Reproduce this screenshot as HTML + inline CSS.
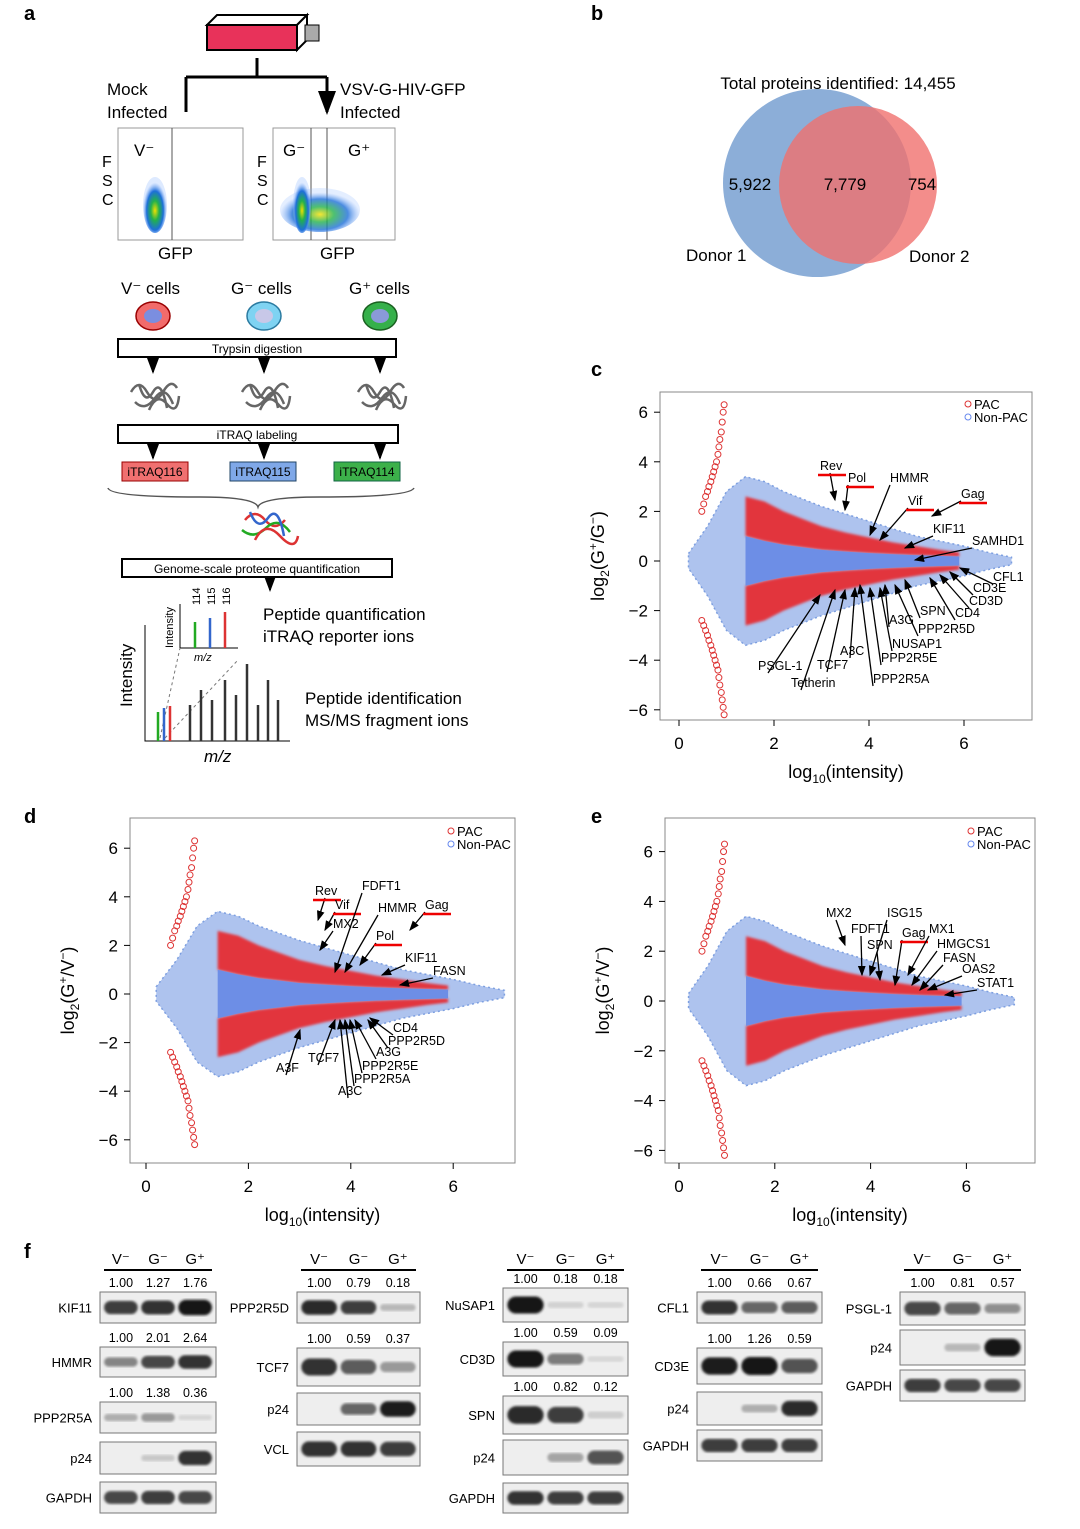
<!DOCTYPE html>
<html><head><meta charset="utf-8">
<style>
html,body{margin:0;padding:0;background:#fff;}
svg{display:block;font-family:"Liberation Sans",sans-serif;}
</style></head>
<body>
<svg id="fig" width="1080" height="1529" viewBox="0 0 1080 1529" xmlns="http://www.w3.org/2000/svg">
<defs>
<radialGradient id="flowg" cx="50%" cy="60%" r="50%">
<stop offset="0" stop-color="#f2e000"/><stop offset="0.35" stop-color="#22b14c"/><stop offset="0.7" stop-color="#1e6fd9"/><stop offset="1" stop-color="#8fb8ff" stop-opacity="0.3"/>
</radialGradient>
<marker id="arr" markerWidth="8" markerHeight="8" refX="7" refY="4" orient="auto"><path d="M0,1 L8,4 L0,7 z" fill="#000"/></marker>
<filter id="blur1"><feGaussianBlur stdDeviation="1.3"/></filter>
</defs>
<g font-weight="bold" font-size="20">
<text x="24" y="20">a</text>
<text x="591" y="20">b</text>
<text x="591" y="376">c</text>
<text x="24" y="823">d</text>
<text x="591" y="823">e</text>
<text x="24" y="1258">f</text>
</g>

<g id="panelA" font-size="17">
<g>
<polygon points="207,25 297,25 297,50 207,50" fill="#e8325a" stroke="#000" stroke-width="2"/>
<polygon points="207,25 217,15 307,15 297,25" fill="#fff" stroke="#000" stroke-width="2"/>
<polygon points="297,25 307,15 307,40 297,50" fill="#fff" stroke="#000" stroke-width="2"/>
<rect x="305" y="25" width="14" height="16" fill="#aaa" stroke="#000"/>
</g>
<path d="M257,58 V77 M186,77 H327 M186,77 V112 M327,77 V112" stroke="#000" stroke-width="3" fill="none" marker-end="url(#arr)"/>
<text x="107" y="95">Mock</text>
<text x="107" y="118">Infected</text>
<text x="340" y="95">VSV-G-HIV-GFP</text>
<text x="340" y="118">Infected</text>
<g>
<rect x="118" y="128" width="125" height="112" fill="#fff" stroke="#999"/>
<line x1="172" y1="128" x2="172" y2="240" stroke="#555"/>
<ellipse cx="155" cy="205" rx="12" ry="28" fill="url(#flowg)"/>
<text x="134" y="156">V⁻</text>
</g>
<g>
<rect x="273" y="128" width="122" height="112" fill="#fff" stroke="#999"/>
<line x1="311" y1="128" x2="311" y2="240" stroke="#555"/>
<line x1="327" y1="128" x2="327" y2="240" stroke="#555"/>
<ellipse cx="320" cy="210" rx="40" ry="22" fill="url(#flowg)" opacity="0.8"/>
<ellipse cx="302" cy="205" rx="9" ry="28" fill="url(#flowg)"/>
<text x="283" y="156">G⁻</text>
<text x="348" y="156">G⁺</text>
</g>
<g font-size="16">
<text x="102" y="167">F</text><text x="102" y="186">S</text><text x="102" y="205">C</text>
<text x="257" y="167">F</text><text x="257" y="186">S</text><text x="257" y="205">C</text>
</g>
<text x="158" y="259">GFP</text>
<text x="320" y="259">GFP</text>
<text x="121" y="294">V⁻ cells</text>
<text x="231" y="294">G⁻ cells</text>
<text x="349" y="294">G⁺ cells</text>
<g>
<ellipse cx="153" cy="316" rx="17" ry="14" fill="#f26b6b" stroke="#900" stroke-width="1.5"/><ellipse cx="153" cy="316" rx="9" ry="7" fill="#7b8ee0"/>
<ellipse cx="264" cy="316" rx="17" ry="14" fill="#7fd3f2" stroke="#2a7aa0" stroke-width="1.5"/><ellipse cx="264" cy="316" rx="9" ry="7" fill="#c8c8e8"/>
<ellipse cx="380" cy="316" rx="17" ry="14" fill="#35b04a" stroke="#1a6020" stroke-width="1.5"/><ellipse cx="380" cy="316" rx="9" ry="7" fill="#8a9ad8"/>
</g>
<rect x="118" y="339" width="278" height="18" fill="#fff" stroke="#000" stroke-width="2"/>
<text x="257" y="353" font-size="12" text-anchor="middle">Trypsin digestion</text>
<rect x="118" y="425" width="280" height="18" fill="#fff" stroke="#000" stroke-width="2"/>
<text x="257" y="439" font-size="12" text-anchor="middle">iTRAQ labeling</text>
<g id="peps"></g>
<rect x="122" y="462" width="66" height="19" fill="#f07070" stroke="#900"/>
<text x="155" y="476" font-size="12" text-anchor="middle">iTRAQ116</text>
<rect x="230" y="462" width="66" height="19" fill="#7fa8e8" stroke="#246"/>
<text x="263" y="476" font-size="12" text-anchor="middle">iTRAQ115</text>
<rect x="334" y="462" width="66" height="19" fill="#3cb04a" stroke="#164"/>
<text x="367" y="476" font-size="12" text-anchor="middle">iTRAQ114</text>
<path d="M108,488 Q110,497 200,497 Q255,497 258,507 Q261,497 320,497 Q410,497 414,488" stroke="#555" fill="none" stroke-width="1.5"/>
<g stroke-width="2.5" fill="none">
<path d="M245,520 q10,-12 20,0 t20,0" stroke="#d33"/><path d="M242,530 q12,10 24,-2 t24,4" stroke="#2a2"/><path d="M250,512 q8,20 18,6 t16,18" stroke="#36c"/><path d="M255,540 q10,-20 25,-4 t18,0" stroke="#d33"/>
</g>
<rect x="122" y="559" width="270" height="18" fill="#fff" stroke="#000" stroke-width="2"/>
<text x="257" y="573" font-size="12" text-anchor="middle">Genome-scale proteome quantification</text>
<g>
<path d="M180,604 V648 H238" stroke="#000" fill="none"/>
<line x1="195" y1="648" x2="195" y2="622" stroke="#2a2" stroke-width="2.5"/>
<line x1="210" y1="648" x2="210" y2="618" stroke="#36c" stroke-width="2.5"/>
<line x1="225" y1="648" x2="225" y2="612" stroke="#d33" stroke-width="2.5"/>
<g font-size="11"><text transform="translate(200,605) rotate(-90)">114</text><text transform="translate(215,605) rotate(-90)">115</text><text transform="translate(230,605) rotate(-90)">116</text>
<text transform="translate(173,648) rotate(-90)">Intensity</text><text x="194" y="661" font-style="italic">m/z</text></g>
<path d="M145,625 V741 H290" stroke="#000" fill="none"/>
<path d="M160,738 L180,648 M165,738 L238,660" stroke="#777" stroke-dasharray="3,3"/>
<line x1="158" y1="741" x2="158" y2="712" stroke="#2a2" stroke-width="2.5"/>
<line x1="164" y1="741" x2="164" y2="708" stroke="#36c" stroke-width="2.5"/>
<line x1="170" y1="741" x2="170" y2="706" stroke="#d33" stroke-width="2.5"/>
<g stroke="#333" stroke-width="2.5">
<line x1="190" y1="741" x2="190" y2="705"/><line x1="201" y1="741" x2="201" y2="690"/><line x1="212" y1="741" x2="212" y2="700"/><line x1="225" y1="741" x2="225" y2="680"/><line x1="236" y1="741" x2="236" y2="695"/><line x1="247" y1="741" x2="247" y2="664"/><line x1="258" y1="741" x2="258" y2="705"/><line x1="268" y1="741" x2="268" y2="680"/><line x1="278" y1="741" x2="278" y2="700"/>
</g>
<text transform="translate(132,707) rotate(-90)" font-size="17">Intensity</text>
<text x="204" y="762" font-size="17" font-style="italic">m/z</text>
</g>
<text x="263" y="620">Peptide quantification</text>
<text x="263" y="642">iTRAQ reporter ions</text>
<text x="305" y="704">Peptide identification</text>
<text x="305" y="726">MS/MS fragment ions</text>
</g>

<g font-size="17">
<circle cx="817" cy="183" r="94" fill="#8caed8"/>
<circle cx="858" cy="185" r="79" fill="#f0706e" opacity="0.8"/>
<text x="838" y="89" text-anchor="middle">Total proteins identified: 14,455</text>
<text x="750" y="190" text-anchor="middle">5,922</text>
<text x="845" y="190" text-anchor="middle">7,779</text>
<text x="922" y="190" text-anchor="middle">754</text>
<text x="686" y="261">Donor 1</text>
<text x="909" y="262">Donor 2</text>
</g>

<g id="plotC"></g>
<g id="plotD"></g>
<g id="plotE"></g>
<g id="blots"></g>
</svg>
<script>
const envX = [0.2,0.6,1.0,1.4,1.8,2.2,2.6,3.0,3.5,4.0,4.5,5.0,5.5,6.0,6.5,7.0];
const blueUpper = [0.3,1.4,2.8,3.4,3.2,2.8,2.5,2.2,1.9,1.6,1.3,1.0,0.8,0.6,0.35,0.15];
const blueLower = [-0.3,-1.4,-2.8,-3.4,-3.2,-2.8,-2.5,-2.2,-1.9,-1.6,-1.3,-1.0,-0.8,-0.6,-0.35,-0.15];
const redX = [1.4,1.8,2.2,2.6,3.0,3.5,4.0,4.5,5.0,5.5,5.9];
const redOuter = [2.6,2.4,2.0,1.7,1.4,1.15,0.95,0.75,0.6,0.45,0.35];
const redInner = [1.0,0.8,0.65,0.55,0.45,0.38,0.32,0.27,0.23,0.2,0.18];
const diagX = [0.95,0.93,0.91,0.89,0.86,0.84,0.82,0.79,0.76,0.73,0.70,0.67,0.63,0.6,0.56,0.52,0.48];
const diagY = [6.3,6.0,5.6,5.2,4.9,4.6,4.3,4.0,3.8,3.6,3.4,3.2,3.0,2.8,2.6,2.3,2.0];
const diagYLow = [-6.2,-5.9,-5.6,-5.3,-5.0,-4.7,-4.4,-4.2,-4.0,-3.8,-3.6,-3.4,-3.2,-3.0,-2.8,-2.6,-2.4];
const xTicks = [0,2,4,6];
const yTicks = [-6,-4,-2,0,2,4,6];

const annC = [["Rev",820,470,835,500,1],["Pol",848,482,845,510,1],["HMMR",890,482,870,535,0],["Vif",908,505,880,540,1],["Gag",961,498,932,516,1],["KIF11",933,533,905,548,0],["SAMHD1",972,545,915,560,0],["CFL1",993,581,960,568,0],["CD3E",973,592,950,572,0],["CD3D",969,605,940,575,0],["CD4",955,617,930,578,0],["SPN",920,615,905,580,0],["A3G",889,624,885,585,0],["PPP2R5D",918,633,895,585,0],["NUSAP1",892,648,880,588,0],["PPP2R5E",881,662,870,588,0],["PPP2R5A",873,683,860,585,0],["A3C",840,655,855,588,0],["TCF7",817,669,845,590,0],["PSGL-1",758,670,820,595,0],["Tetherin",791,687,835,590,0]];
const annD = [["Rev",315,895,318,920,1],["Vif",335,909,325,930,1],["FDFT1",362,890,335,972,0],["MX2",333,928,320,950,0],["HMMR",378,912,345,972,0],["Gag",425,909,410,930,1],["Pol",376,940,360,965,1],["KIF11",405,962,382,975,0],["FASN",433,975,400,985,0],["CD4",393,1032,370,1018,0],["PPP2R5D",388,1045,368,1020,0],["A3G",376,1056,355,1020,0],["PPP2R5E",362,1070,350,1020,0],["PPP2R5A",354,1083,345,1020,0],["A3C",338,1095,340,1020,0],["TCF7",308,1062,335,1020,0],["A3F",276,1072,300,1030,0]];
const annE = [["MX2",826,917,845,945,0],["FDFT1",851,933,862,975,0],["ISG15",887,917,870,975,0],["SPN",867,949,880,980,0],["Gag",902,937,895,985,1],["MX1",929,933,908,975,0],["HMGCS1",937,948,912,985,0],["FASN",943,962,920,990,0],["OAS2",962,973,928,990,0],["STAT1",977,987,945,995,0]];

const blotG1 = [["KIF11",[0.8,0.85,1.0],"1.00 1.27 1.76"],["HMMR",[0.45,0.75,0.85],"1.00 2.01 2.64"],["PPP2R5A",[0.25,0.35,0.06],"1.00 1.38 0.36"],["p24",[0,0.12,0.85],""],["GAPDH",[0.75,0.8,0.75],""]];
const blotG2 = [["PPP2R5D",[0.9,0.8,0.2],"1.00 0.79 0.18"],["TCF7",[0.85,0.65,0.35],"1.00 0.59 0.37"],["p24",[0,0.6,0.95],""],["VCL",[0.85,0.85,0.8],""]];
const blotG3 = [["NuSAP1",[1.0,0.08,0.06],"1.00 0.18 0.18"],["CD3D",[1.0,0.5,0.05],"1.00 0.59 0.09"],["SPN",[0.9,0.8,0.1],"1.00 0.82 0.12"],["p24",[0,0.3,0.7],""],["GAPDH",[0.85,0.8,0.8],""]];
const blotG4 = [["CFL1",[0.85,0.6,0.65],"1.00 0.66 0.67"],["CD3E",[0.95,1.0,0.7],"1.00 1.26 0.59"],["p24",[0,0.25,0.9],""],["GAPDH",[0.8,0.8,0.8],""]];
const blotG5 = [["PSGL-1",[0.75,0.6,0.4],"1.00 0.81 0.57"],["p24",[0,0.2,1.0],""],["GAPDH",[0.8,0.75,0.75],""]];

const NS = "http://www.w3.org/2000/svg";
function mk(parent, tag, attrs, name){
  const el = document.createElementNS(NS, tag);
  for (const k in attrs) el.setAttribute(k, attrs[k]);
  
  
  parent.appendChild(el);
  return el;
}
function txt(parent, x, y, s, size, anchor, name){
  const t = mk(parent, 'text', {x:x, y:y, 'font-size':size, 'text-anchor':anchor||'start'}, name);
  t.textContent = s; return t;
}

function drawMA(g, box, sx, sy, ylab, ann, legX, legY){
  const X = v => box.x0 + v*sx, Y = v => box.y0 - v*sy;
  mk(g,'rect',{x:box.l,y:box.t,width:box.r-box.l,height:box.b-box.t,fill:'#fff',stroke:'#888'},'plot-frame');
  let pts = envX.map((x,i)=>X(x)+','+Y(blueUpper[i])).concat(envX.slice().reverse().map((x,i)=>X(x)+','+Y(blueLower[envX.length-1-i])));
  mk(g,'polygon',{points:pts.join(' '),fill:'#aec3ee',stroke:'#7d9fe0','stroke-width':1.5,'stroke-dasharray':'2,3'},'non-pac-cloud');
  let up = redX.map((x,i)=>X(x)+','+Y(redOuter[i])).concat(redX.slice().reverse().map((x,i)=>X(x)+','+Y(redInner[redX.length-1-i])));
  mk(g,'polygon',{points:up.join(' '),fill:'#e2343c',filter:'url(#blur1)'},'pac-band-upper');
  let lo = redX.map((x,i)=>X(x)+','+Y(-redOuter[i])).concat(redX.slice().reverse().map((x,i)=>X(x)+','+Y(-redInner[redX.length-1-i])));
  mk(g,'polygon',{points:lo.join(' '),fill:'#e2343c',filter:'url(#blur1)'},'pac-band-lower');
  let core = redX.map((x,i)=>X(x)+','+Y(redInner[i])).concat(redX.slice().reverse().map((x,i)=>X(x)+','+Y(-redInner[redX.length-1-i])));
  mk(g,'polygon',{points:core.join(' '),fill:'#6d8ee6'},'non-pac-core');
  diagX.forEach((x,i)=>{
    mk(g,'circle',{cx:X(x),cy:Y(diagY[i]),r:3,fill:'none',stroke:'#d33'},'pac-point-high');
    mk(g,'circle',{cx:X(x),cy:Y(diagYLow[i]),r:3,fill:'none',stroke:'#d33'},'pac-point-low');
  });
  xTicks.forEach(v=>{ mk(g,'line',{x1:X(v),y1:box.b,x2:X(v),y2:box.b+6,stroke:'#000'},'x-tick'); txt(g,X(v),box.b+29,String(v),17,'middle','x-tick-label'); });
  yTicks.forEach(v=>{ mk(g,'line',{x1:box.l-6,y1:Y(v),x2:box.l,y2:Y(v),stroke:'#000'},'y-tick'); txt(g,box.l-12,Y(v)+6,(v<0?'−':'')+Math.abs(v),17,'end','y-tick-label'); });
  const xt = mk(g,'text',{x:(box.l+box.r)/2,y:box.b+58,'font-size':18,'text-anchor':'middle'},'x-axis-title');
  xt.innerHTML = 'log<tspan font-size="12" dy="5">10</tspan><tspan dy="-5">(intensity)</tspan>';
  const yt = mk(g,'text',{transform:'translate('+(box.l-56)+','+((box.t+box.b)/2)+') rotate(-90)','font-size':18,'text-anchor':'middle'},'y-axis-title');
  yt.innerHTML = ylab;
  mk(g,'circle',{cx:legX,cy:legY,r:3,fill:'none',stroke:'#d33'},'legend-pac-marker');
  txt(g,legX+6,legY+5,'PAC',13,'start','legend-pac');
  mk(g,'circle',{cx:legX,cy:legY+13,r:3,fill:'none',stroke:'#68e'},'legend-nonpac-marker');
  txt(g,legX+6,legY+18,'Non-PAC',13,'start','legend-nonpac');
  ann.forEach(a=>{
    mk(g,'line',{x1:a[1]+ (a[3]<a[1]?0:10),y1:a[2]+3,x2:a[3],y2:a[4],stroke:'#000','stroke-width':1.3,'marker-end':'url(#arr)'},'annotation-arrow');
    txt(g,a[1],a[2],a[0],12.5,'start','annotation-label');
    if (a[5]) mk(g,'line',{x1:a[1]-2,y1:a[2]+5,x2:a[1]+a[0].length*8+2,y2:a[2]+5,stroke:'#e00','stroke-width':2.5},'hiv-protein-underline');
  });
}
drawMA(document.getElementById('plotC'),{l:660,r:1032,t:392,b:720,x0:679,y0:561},47.5,24.8,'log<tspan font-size="12" dy="5">2</tspan><tspan dy="-5">(G</tspan><tspan font-size="12" dy="-7">+</tspan><tspan dy="7">/G</tspan><tspan font-size="12" dy="-7">−</tspan><tspan dy="7">)</tspan>',annC,968,404);
drawMA(document.getElementById('plotD'),{l:130,r:515,t:818,b:1163,x0:146,y0:994},51.2,24.3,'log<tspan font-size="12" dy="5">2</tspan><tspan dy="-5">(G</tspan><tspan font-size="12" dy="-7">+</tspan><tspan dy="7">/V</tspan><tspan font-size="12" dy="-7">−</tspan><tspan dy="7">)</tspan>',annD,451,831);
drawMA(document.getElementById('plotE'),{l:665,r:1035,t:818,b:1163,x0:679,y0:1001},47.9,24.9,'log<tspan font-size="12" dy="5">2</tspan><tspan dy="-5">(G</tspan><tspan font-size="12" dy="-7">+</tspan><tspan dy="7">/V</tspan><tspan font-size="12" dy="-7">−</tspan><tspan dy="7">)</tspan>',annE,971,831);

(function(){
  const g = document.getElementById('peps');
  [153,264,380].forEach(cx=>{
    mk(g,'line',{x1:cx,y1:358,x2:cx,y2:372,stroke:'#000','stroke-width':2,'marker-end':'url(#arr)'},'digest-arrow');
    mk(g,'path',{d:`M${cx-22},392 q8,-14 16,0 t16,0 t14,-4 M${cx-18},402 q10,10 20,-4 t18,6 M${cx-14},384 q6,22 14,8 t14,16 M${cx-4},410 q8,-18 18,-6 t12,-8`,stroke:'#666','stroke-width':2.5,fill:'none'},'peptide-squiggle');
    mk(g,'line',{x1:cx,y1:443,x2:cx,y2:458,stroke:'#000','stroke-width':2,'marker-end':'url(#arr)'},'label-arrow');
  });
  mk(g,'line',{x1:270,y1:577,x2:270,y2:590,stroke:'#000','stroke-width':2,'marker-end':'url(#arr)'},'quant-arrow');
})();

function drawBlots(group, bx, bw, headerY, rows){
  const g = document.getElementById('blots');
  const lanes = [bx+bw*0.18, bx+bw*0.5, bx+bw*0.82];
  const hdr = ['V⁻','G⁻','G⁺'];
  mk(g,'line',{x1:bx+4,y1:headerY+6,x2:bx+bw-4,y2:headerY+6,stroke:'#000','stroke-width':2},'blot-header-rule');
  lanes.forEach((lx,i)=>txt(g,lx,headerY,hdr[i],15,'middle','lane-header'));
  rows.forEach(r=>{
    const [label, inten, vals] = group[r.i];
    if (vals) vals.split(' ').forEach((v,i)=>txt(g,lanes[i],r.y-5,v,12.5,'middle','quant-value'));
    mk(g,'rect',{x:bx,y:r.y,width:bw,height:r.h,fill:'#eeeeee',stroke:'#777'},'blot-'+label.toLowerCase());
    txt(g,bx-8,r.y+r.h/2+5,label,13,'end','blot-label');
    inten.forEach((v,i)=>{
      if (v<=0) return;
      const c = Math.round(225-205*v);
      const w = bw*0.29, h = Math.max(3, r.h*(0.15+0.35*v));
      mk(g,'rect',{x:lanes[i]-w/2,y:r.y+r.h/2-h/2,width:w,height:h,rx:h/2,fill:`rgb(${c},${c},${c})`,filter:'url(#blur1)'},'band');
    });
  });
}
drawBlots(blotG1,100,116,1264,[{i:0,y:1292,h:31},{i:1,y:1347,h:30},{i:2,y:1402,h:31},{i:3,y:1442,h:32},{i:4,y:1482,h:31}]);
drawBlots(blotG2,297,123,1264,[{i:0,y:1292,h:31},{i:1,y:1348,h:38},{i:2,y:1393,h:32},{i:3,y:1432,h:34}]);
drawBlots(blotG3,503,125,1264,[{i:0,y:1288,h:34},{i:1,y:1342,h:34},{i:2,y:1396,h:38},{i:3,y:1440,h:35},{i:4,y:1483,h:30}]);
drawBlots(blotG4,697,125,1264,[{i:0,y:1292,h:31},{i:1,y:1348,h:36},{i:2,y:1392,h:33},{i:3,y:1430,h:31}]);
drawBlots(blotG5,900,125,1264,[{i:0,y:1292,h:33},{i:1,y:1330,h:35},{i:2,y:1370,h:31}]);
</script>
</body></html>
